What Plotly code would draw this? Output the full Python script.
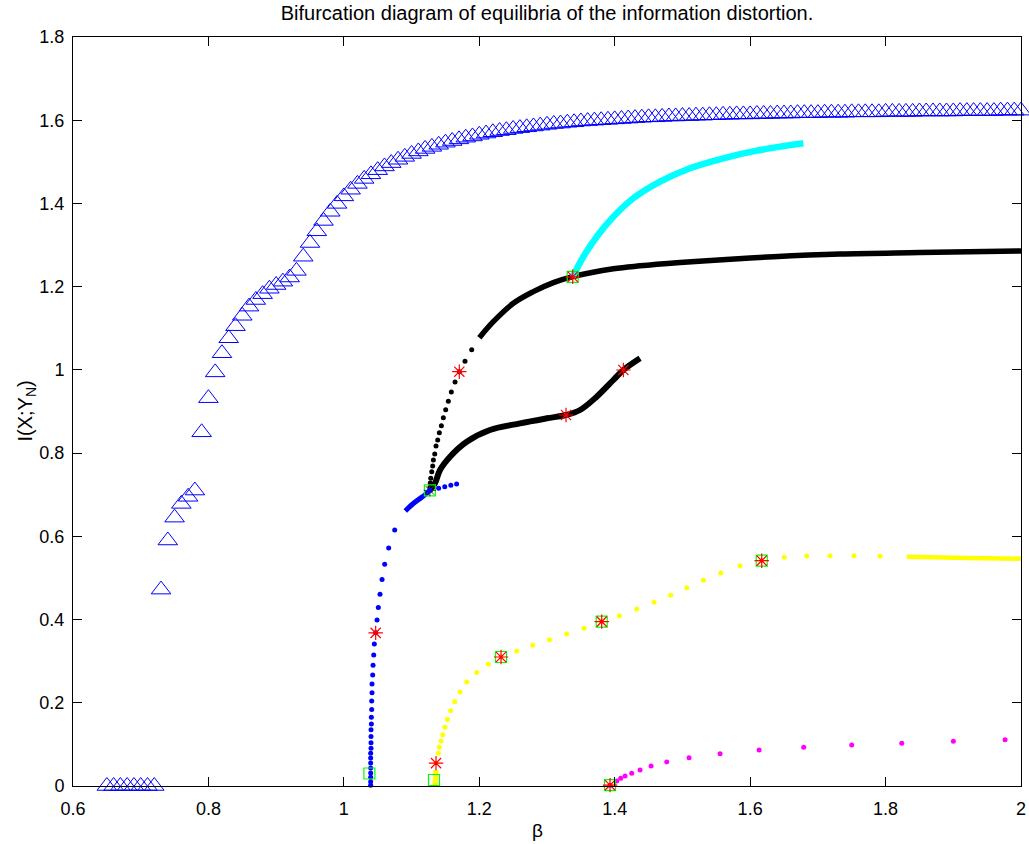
import numpy as np
import plotly.graph_objects as go

# ---- equilibrium branches: beta vs I(X;Y_N) ----

# optimal curve (triangles), beta = 0.65 ... 2.00 in steps of 0.01
tri_beta = np.round(0.65 + 0.01 * np.arange(136), 2)
tri_info = [
    0, 0, 0, 0, 0, 0, 0, 0,
    0.472, 0.590, 0.645, 0.678, 0.695, 0.710, 0.850, 0.932, 0.994, 1.040,
    1.076, 1.105, 1.130, 1.152, 1.168, 1.182, 1.195, 1.204, 1.212, 1.222,
    1.238, 1.272, 1.305, 1.333, 1.358, 1.380, 1.399, 1.417, 1.433, 1.447,
    1.459, 1.470, 1.480, 1.489, 1.497, 1.505, 1.512, 1.519, 1.525, 1.531,
    1.536, 1.541, 1.546, 1.550, 1.554, 1.558, 1.561, 1.565, 1.568, 1.571,
    1.574, 1.576, 1.579, 1.581, 1.583, 1.585, 1.587, 1.589, 1.591, 1.592,
    1.594, 1.595, 1.597, 1.598, 1.599, 1.600, 1.601, 1.602, 1.603, 1.604,
    1.605, 1.606, 1.607, 1.607, 1.608, 1.609, 1.609, 1.610, 1.610, 1.611,
    1.611, 1.612, 1.612, 1.613, 1.613, 1.614, 1.614, 1.614, 1.615, 1.615,
    1.615, 1.616, 1.616, 1.616, 1.617, 1.617, 1.617, 1.617, 1.618, 1.618,
    1.618, 1.618, 1.619, 1.619, 1.619, 1.619, 1.619, 1.620, 1.620, 1.620,
    1.620, 1.620, 1.621, 1.621, 1.621, 1.621, 1.621, 1.621, 1.622, 1.622,
    1.622, 1.622, 1.622, 1.622, 1.623, 1.623, 1.623, 1.623,
]

# first bifurcating branch (blue)
blue_beta = [1.0396, 1.0396, 1.0396, 1.0396, 1.0396, 1.0396, 1.0396, 1.0396,
             1.0401, 1.0401, 1.0401, 1.0401, 1.0406, 1.0406, 1.0411, 1.0411,
             1.0416, 1.0416, 1.0426, 1.0431, 1.0441, 1.0450, 1.0470, 1.0490,
             1.0509, 1.0534, 1.0564, 1.0603, 1.0662, 1.0751]
blue_info = [0.002, 0.010, 0.021, 0.031, 0.043, 0.055, 0.067, 0.079,
             0.091, 0.104, 0.119, 0.135, 0.149, 0.165, 0.184, 0.204,
             0.224, 0.245, 0.267, 0.290, 0.315, 0.341, 0.368, 0.399,
             0.429, 0.461, 0.496, 0.533, 0.572, 0.615]
blue_dense_beta = [1.0908, 1.1026, 1.1150, 1.1270]
blue_dense_info = [0.661, 0.679, 0.694, 0.710]
blue_tail_beta = [1.1270, 1.1400, 1.1490, 1.1580, 1.1665]
blue_tail_info = [0.710, 0.7154, 0.7190, 0.7226, 0.7258]

# upper black branch: sparse part then continuation
blk_dot_beta = [1.1272, 1.1276, 1.1283, 1.1298, 1.1312, 1.1322, 1.1342, 1.1361,
                1.1386, 1.1410, 1.1440, 1.1469, 1.1504, 1.1543, 1.1587, 1.1642,
                1.1705, 1.1789, 1.1888]
blk_dot_info = [0.718, 0.728, 0.7395, 0.7554, 0.769, 0.7835, 0.798, 0.817,
                0.8315, 0.849, 0.866, 0.885, 0.904, 0.9245, 0.947, 0.971,
                0.9957, 1.021, 1.0486]
blk_up_beta = [1.2001, 1.2207, 1.2503, 1.2798, 1.3094, 1.3380, 1.3980, 1.4374,
               1.4965, 1.5359, 1.6343, 1.7327, 1.8500, 2.0000]
blk_up_info = [1.0774, 1.1158, 1.1600, 1.1880, 1.2097, 1.2240, 1.2430, 1.2500,
               1.2580, 1.2625, 1.2720, 1.2786, 1.2820, 1.2857]

# lower black branch
blk_low_beta = [1.1270, 1.1346, 1.1420, 1.1568, 1.1815, 1.2158, 1.2602, 1.2996,
                1.3281, 1.3488, 1.3734, 1.3980, 1.4128, 1.4374]
blk_low_info = [0.711, 0.7275, 0.7594, 0.7914, 0.8274, 0.8556, 0.8716, 0.8836,
                0.8916, 0.9036, 0.9356, 0.9757, 0.9997, 1.0279]

# cyan branch
cyan_beta = [1.3380, 1.3537, 1.3734, 1.3980, 1.4275, 1.4669, 1.5112, 1.5604,
             1.6097, 1.6786]
cyan_info = [1.2240, 1.2720, 1.3200, 1.3680, 1.4124, 1.4523, 1.4845, 1.5085,
             1.5268, 1.5445]

# yellow branch
yel_dense_beta = [1.1346, 1.1361]
yel_dense_info = [0.002, 0.0385]
yel_beta = [1.1361, 1.1396, 1.1410, 1.1435, 1.1460, 1.1494, 1.1528, 1.1578,
            1.1637, 1.1716, 1.1815, 1.1962, 1.2134, 1.2321, 1.2553, 1.2789,
            1.3035, 1.3291, 1.3547, 1.3808, 1.4068, 1.4325, 1.4581, 1.4827,
            1.5064, 1.5309, 1.5566, 1.5851, 1.6171, 1.6505, 1.6836, 1.7180,
            1.7534, 1.7919]
yel_info = [0.055, 0.0785, 0.093, 0.108, 0.1233, 0.141, 0.160, 0.181,
            0.2026, 0.226, 0.250, 0.273, 0.2924, 0.310, 0.3244, 0.338,
            0.3516, 0.3653, 0.379, 0.395, 0.4093, 0.4254, 0.4415, 0.4583,
            0.4766, 0.4943, 0.5119, 0.5295, 0.5415, 0.5496, 0.5527, 0.5535,
            0.5535, 0.552]
yel_tail_beta = [1.8312, 1.9200, 2.0000]
yel_tail_info = [0.551, 0.548, 0.5463]

# magenta branch
mag_beta = [1.3931, 1.4030, 1.4089, 1.4153, 1.4251, 1.4374, 1.4537, 1.4768,
            1.5098, 1.5556, 1.6132, 1.6791, 1.7500, 1.8239, 1.9001, 1.9765]
mag_info = [0.002, 0.012, 0.0184, 0.024, 0.0304, 0.0385, 0.048, 0.0577,
            0.068, 0.0777, 0.0865, 0.093, 0.0985, 0.1026, 0.1074, 0.1113]

# bifurcation markers
sq_beta = [1.0377, 1.1270, 1.3380, 1.1331, 1.2321, 1.3808, 1.6171, 1.3931]
sq_info = [0.030, 0.7105, 1.2237, 0.0144, 0.310, 0.395, 0.5415, 0.002]
star_beta = [1.0470, 1.1705, 1.3281, 1.4128, 1.3380, 1.1361, 1.2321, 1.3808,
             1.6171, 1.3931]
star_info = [0.368, 0.9957, 0.8916, 0.9997, 1.2237, 0.055, 0.310, 0.395,
             0.5415, 0.002]
dark_star_beta = [1.1270]
dark_star_info = [0.7105]

x_ticks = [0.6, 0.8, 1.0, 1.2, 1.4, 1.6, 1.8, 2.0]
x_labels = ["0.6", "0.8", "1", "1.2", "1.4", "1.6", "1.8", "2"]
y_ticks = [0, 0.2, 0.4, 0.6, 0.8, 1.0, 1.2, 1.4, 1.6, 1.8]
y_labels = ["0", "0.2", "0.4", "0.6", "0.8", "1", "1.2", "1.4", "1.6", "1.8"]

BLUE, BLACK, CYAN = "#0000FF", "#000000", "#00FFFF"
YELLOW, MAGENTA, RED, GREEN = "#FFFF00", "#FF00FF", "#FF0000", "#00FF00"
DOT = 5

fig = go.Figure()


def dots(x, y, color, size=DOT):
    fig.add_trace(go.Scatter(x=x, y=y, mode="markers", cliponaxis=False,
                             marker=dict(symbol="circle", size=size, color=color,
                                         line=dict(width=0))))


def band(x, y, color, width):
    fig.add_trace(go.Scatter(x=x, y=y, mode="lines", cliponaxis=False,
                             line=dict(color=color, width=width, shape="spline")))


fig.add_trace(go.Scatter(x=tri_beta, y=tri_info, mode="markers", cliponaxis=False,
                         marker=dict(symbol="triangle-up-open", size=17, color=BLUE,
                                     line=dict(width=1, color=BLUE))))

dots(blue_beta, blue_info, BLUE)
band(blue_dense_beta, blue_dense_info, BLUE, 5)
dots(blue_tail_beta, blue_tail_info, BLUE)

dots(blk_dot_beta, blk_dot_info, BLACK)
band(blk_up_beta, blk_up_info, BLACK, 5.5)
band(blk_low_beta, blk_low_info, BLACK, 6)
band(cyan_beta, cyan_info, CYAN, 6.5)

band(yel_dense_beta, yel_dense_info, YELLOW, 5)
dots(yel_beta, yel_info, YELLOW)
band(yel_tail_beta, yel_tail_info, YELLOW, 4.5)

dots(mag_beta, mag_info, MAGENTA)

fig.add_trace(go.Scatter(x=sq_beta, y=sq_info, mode="markers", cliponaxis=False,
                         marker=dict(symbol="square-open", size=11, color=GREEN,
                                     line=dict(width=1.2, color=GREEN))))
fig.add_trace(go.Scatter(x=star_beta, y=star_info, mode="markers", cliponaxis=False,
                         marker=dict(symbol="asterisk-open", size=12, color=RED,
                                     line=dict(width=1.2, color=RED))))
fig.add_trace(go.Scatter(x=dark_star_beta, y=dark_star_info, mode="markers",
                         cliponaxis=False,
                         marker=dict(symbol="asterisk-open", size=10, color="#333333",
                                     line=dict(width=1, color="#333333"))))
dots([1.1270], [0.7105], BLUE)

FONT = "Liberation Sans, Arial, Helvetica, sans-serif"
axis_common = dict(showline=True, linecolor="black", linewidth=1, mirror="ticks",
                   ticks="inside", ticklen=9, tickwidth=1, tickcolor="black",
                   showgrid=False, zeroline=False, automargin=False,
                   tickfont=dict(family=FONT, size=18, color="black"))

fig.update_layout(
    width=1029, height=844,
    margin=dict(l=73, r=8, t=37, b=58, autoexpand=False),
    paper_bgcolor="white", plot_bgcolor="white",
    showlegend=False,
    title=dict(text="Bifurcation diagram of equilibria of the information distortion.",
               x=0.5, xref="paper", xanchor="center",
               y=1 - 13 / 844, yref="container", yanchor="middle",
               font=dict(family=FONT, size=20, color="black")),
    xaxis=dict(range=[0.6, 2.0], tickvals=x_ticks, ticktext=x_labels,
               ticklabelstandoff=6, **axis_common),
    yaxis=dict(range=[0, 1.8], tickvals=y_ticks, ticktext=y_labels,
               ticklabelstandoff=4, **axis_common),
    annotations=[
        dict(text="β", xref="paper", yref="paper",
             x=(537 - 73) / 948, y=(786 - 830) / 749,
             xanchor="center", yanchor="middle", showarrow=False,
             font=dict(family=FONT, size=19, color="black")),
        dict(text="I(X;Y<sub>N</sub>)", xref="paper", yref="paper",
             x=(26 - 73) / 948, y=0.5, textangle=-90,
             xanchor="center", yanchor="middle", showarrow=False,
             font=dict(family=FONT, size=20, color="black")),
    ],
)

fig.write_html("out.html")
